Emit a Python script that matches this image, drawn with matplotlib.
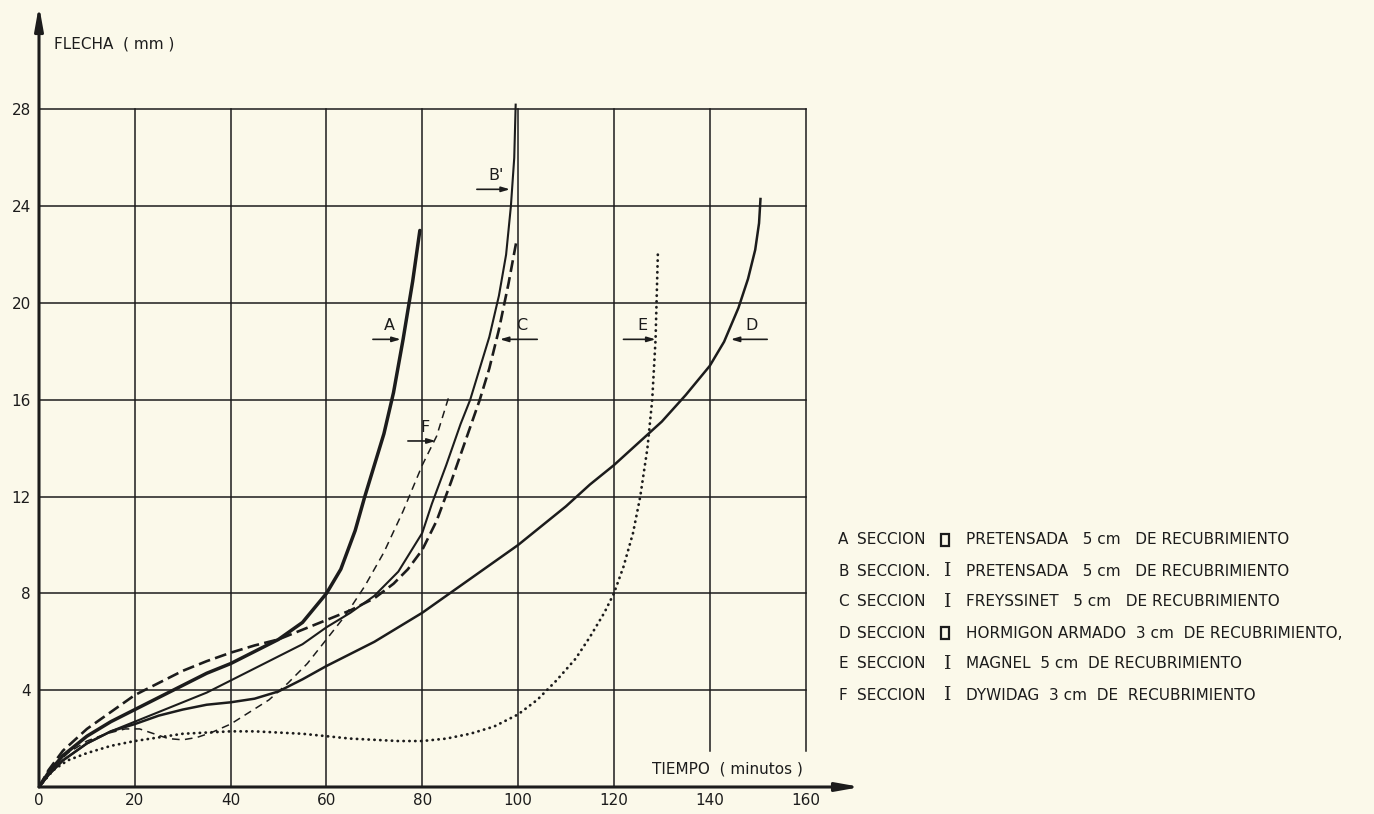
import matplotlib.pyplot as plt
from matplotlib.patches import Rectangle

# Readings: time (minutos) / deflection (mm)
t_a = [0, 2, 5, 10, 15, 20, 25, 30, 35, 40, 45, 50, 55, 60, 63, 66, 68, 70, 72, 74, 76, 78, 79.5]
f_a = [0, 0.6, 1.3, 2.1, 2.7, 3.2, 3.7, 4.2, 4.7, 5.1, 5.6, 6.1, 6.8, 8.0, 9.0, 10.6, 12.0, 13.3, 14.6, 16.3, 18.5, 20.9, 23.0]

t_b = [0, 2, 5, 10, 15, 20, 25, 30, 35, 40, 45, 50, 55, 60, 65, 70, 75, 80, 82, 85, 88, 90, 92, 94, 96, 97.5, 98.5, 99.2, 99.5]
f_b = [0, 0.5, 1.1, 1.8, 2.3, 2.7, 3.1, 3.5, 3.9, 4.4, 4.9, 5.4, 5.9, 6.6, 7.2, 7.9, 8.9, 10.5, 11.7, 13.3, 15.0, 16.0, 17.3, 18.6, 20.3, 22.0, 24.0, 26.0, 28.2]

t_c = [0, 2, 5, 10, 15, 20, 25, 30, 35, 40, 45, 50, 55, 60, 65, 70, 74, 77, 80, 83, 86, 89, 92, 94, 96, 98, 99.6]
f_c = [0, 0.7, 1.5, 2.4, 3.1, 3.8, 4.3, 4.8, 5.2, 5.55, 5.85, 6.1, 6.5, 6.9, 7.3, 7.8, 8.4, 9.0, 9.8, 11.0, 12.6, 14.3, 16.0, 17.3, 18.9, 20.8, 22.5]

t_d = [0, 2, 5, 10, 15, 20, 25, 30, 35, 40, 45, 50, 55, 60, 70, 80, 90, 100, 110, 115, 120, 125, 130, 135, 140, 143, 146, 148, 149.5, 150.3, 150.6]
f_d = [0, 0.5, 1.1, 1.8, 2.3, 2.6, 2.95, 3.2, 3.4, 3.5, 3.65, 3.95, 4.45, 5.0, 6.0, 7.2, 8.6, 10.0, 11.6, 12.5, 13.3, 14.2, 15.1, 16.2, 17.4, 18.4, 19.8, 21.0, 22.2, 23.3, 24.3]

t_e = [0, 3, 6, 10, 15, 20, 25, 30, 35, 40, 45, 50, 55, 60, 65, 70, 75, 80, 85, 90, 95, 100, 104, 108, 112, 115, 118, 120, 122, 124, 125.5, 127, 128, 128.7, 129.2]
f_e = [0, 0.7, 1.1, 1.4, 1.7, 1.9, 2.05, 2.2, 2.25, 2.3, 2.3, 2.25, 2.2, 2.1, 2.0, 1.95, 1.9, 1.9, 2.0, 2.2, 2.5, 3.0, 3.6, 4.4, 5.3, 6.2, 7.2, 8.0, 9.1, 10.5, 12.0, 14.0, 16.0, 18.5, 22.2]

t_f = [0, 3, 6, 10, 14, 18, 21, 24, 27, 30, 33, 36, 40, 44, 48, 52, 56, 60, 64, 68, 72, 76, 80, 83, 85.5]
f_f = [0, 0.8, 1.4, 1.9, 2.2, 2.4, 2.4, 2.2, 2.0, 1.95, 2.05, 2.25, 2.6, 3.1, 3.6, 4.3, 5.1, 6.1, 7.1, 8.3, 9.7, 11.4, 13.3, 14.5, 16.1]

x_ticks = [0, 20, 40, 60, 80, 100, 120, 140, 160]
y_ticks = [4, 8, 12, 16, 20, 24, 28]

legend_keys = ["A", "B", "C", "D", "E", "F"]
legend_sec = ["SECCION", "SECCION.", "SECCION", "SECCION", "SECCION", "SECCION"]
legend_shapes = ["box", "I", "I", "box", "I", "I"]
legend_desc = [
    "PRETENSADA   5 cm   DE RECUBRIMIENTO",
    "PRETENSADA   5 cm   DE RECUBRIMIENTO",
    "FREYSSINET   5 cm   DE RECUBRIMIENTO",
    "HORMIGON ARMADO  3 cm  DE RECUBRIMIENTO,",
    "MAGNEL  5 cm  DE RECUBRIMIENTO",
    "DYWIDAG  3 cm  DE  RECUBRIMIENTO",
]

paper = "#fbf9ea"
ink = "#1c1c1c"

W, H = 1374, 814
fig = plt.figure(figsize=(W / 100, H / 100), dpi=100, facecolor=paper)
# data frame: t=0 at x=39px, t=160 at 805px ; f=0 at y=787px, f=28 at 110px
ax = fig.add_axes([39 / W, 27 / H, (863 - 39) / W, 784 / H])
ax.set_facecolor(paper)
ax.set_xlim(0, 172)
ax.set_ylim(0, 32.4)
for s in ax.spines.values():
    s.set_visible(False)

# grid
for x in x_ticks[1:]:
    y0 = 1.5 if x >= 140 else 0
    ax.plot([x, x], [y0, 28], color=ink, lw=1.1, zorder=1)
for y in y_ticks:
    ax.plot([0, 160], [y, y], color=ink, lw=1.1, zorder=1)

# axes with arrows
arrow = dict(arrowstyle="-|>,head_length=1.4,head_width=0.25", lw=2.2, color=ink, shrinkA=0, shrinkB=0)
ax.annotate("", xy=(171.5, 0), xytext=(0, 0), arrowprops=arrow, annotation_clip=False)
ax.annotate("", xy=(0, 32.3), xytext=(0, 0), arrowprops=arrow, annotation_clip=False)

# curves
ax.plot(t_a, f_a, color=ink, lw=2.5, solid_capstyle="round", zorder=3)
ax.plot(t_b, f_b, color=ink, lw=1.5, zorder=3)
ax.plot(t_c, f_c, color=ink, lw=1.9, dashes=(4.5, 2.0), zorder=3)
ax.plot(t_d, f_d, color=ink, lw=1.8, zorder=3)
ax.plot(t_e, f_e, color=ink, lw=2.0, linestyle=(0, (0.1, 2.0)), dash_capstyle="round", zorder=3)
ax.plot(t_f, f_f, color=ink, lw=1.1, dashes=(5, 3.5), zorder=3)

# curve labels with arrows: (label, tail, tip, height)
labels = [("A", 69.7, 75.5, 18.5), ("C", 104.0, 96.2, 18.5), ("F", 77.0, 82.8, 14.3),
          ("B'", 91.4, 98.3, 24.7), ("E", 122.0, 128.7, 18.5), ("D", 152.0, 144.4, 18.5)]
small = dict(arrowstyle="-|>,head_length=0.5,head_width=0.15", lw=1.2, color=ink, shrinkA=0, shrinkB=0)
for name, tail, tip, h in labels:
    ax.annotate("", xy=(tip, h), xytext=(tail, h), arrowprops=small)
    ax.text((tail + tip) / 2 + 0.6, h + 0.25, name, ha="center", va="bottom", fontsize=11.5, color=ink)

# ticks
ax.set_xticks(x_ticks)
ax.set_yticks(y_ticks)
ax.tick_params(length=0, labelsize=11, labelcolor=ink)
ax.tick_params(axis="x", pad=4)
ax.tick_params(axis="y", pad=6)

ax.text(3.2, 30.7, "FLECHA  ( mm )", fontsize=11, color=ink, va="center")
ax.text(128.0, 0.75, "TIEMPO  ( minutos )", fontsize=11, color=ink, va="center")

# legend
for i in range(len(legend_keys)):
    yp = 540 + 31 * i
    y = 1 - yp / H
    fig.text(838 / W, y, legend_keys[i], fontsize=11, color=ink, va="center")
    fig.text(857 / W, y, legend_sec[i], fontsize=11, color=ink, va="center")
    if legend_shapes[i] == "I":
        fig.text(944 / W, y, "I", fontsize=13.5, family="DejaVu Serif", color=ink, va="center")
    else:
        fig.patches.append(Rectangle((941 / W, 1 - (yp + 6) / H), 8 / W, 12 / H, transform=fig.transFigure,
                                     fill=False, lw=1.6, edgecolor=ink))
    fig.text(966 / W, y, legend_desc[i], fontsize=11, color=ink, va="center")

fig.savefig("out.png", dpi=100, facecolor=paper)
